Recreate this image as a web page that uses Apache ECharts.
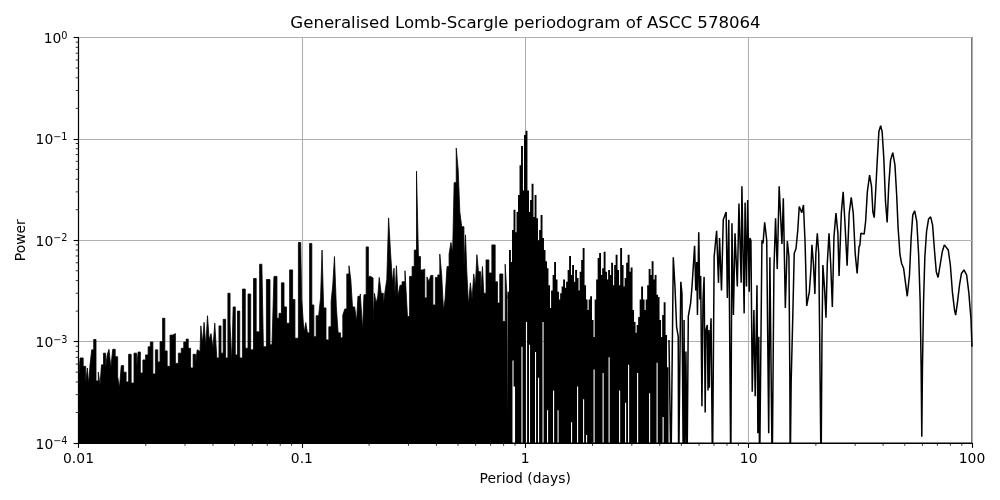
<!DOCTYPE html>
<html>
<head>
<meta charset="utf-8">
<style>html,body{margin:0;padding:0;background:#fff}#chart{width:1000px;height:500px}</style>
<script src="https://cdn.jsdelivr.net/npm/echarts@6/dist/echarts.min.js"></script>
</head>
<body>
<div id="chart"></div>
<script>
// periods below about 0.84 d: the solid black part, outline of the top only
var densePeriod = [
  0.0100,0.01033,0.01066,0.01088,0.01103,0.01118,0.01134,0.01158,0.01182,0.01214,0.01239,0.01257,0.01278,0.0131,0.01332,0.01355,0.01384,0.01408,0.01438,0.01482,
  0.01513,0.01538,0.0157,0.01614,0.01653,0.017,0.01742,0.01803,0.01833,0.01865,0.0192,0.01964,0.0203,0.0207,0.02126,0.0218,0.0224,0.02286,0.0235,0.0241,
  0.0246,0.0253,0.0261,0.0268,0.0275,0.0285,0.0292,0.03,0.0307,0.0313,0.0322,0.033,0.0338,0.0342,0.035,0.0356,0.0362,0.0368,0.0375,0.0381,
  0.0388,0.0396,0.0404,0.0411,0.0421,0.043,0.0439,0.045,0.0461,0.0472,0.0482,0.0488,0.0497,0.051,0.052,0.0534,0.055,0.0566,0.0582,0.0598,
  0.0617,0.0632,0.0662,0.0683,0.0705,0.0735,0.0765,0.0782,0.0798,0.0822,0.0842,0.0865,0.0898,0.092,0.0942,0.0988,
  0.1008,0.1022,0.1032,0.105,0.1068,0.1098,0.1118,0.1145,0.1172,0.1205,0.122,0.1243,0.126,0.1305,0.1336,0.1368,0.1382,0.1417,0.1436,0.147,
  0.1507,0.1543,0.157,0.1608,0.1642,0.167,0.17,0.1746,0.177,0.1795,0.1858,0.1883,0.191,0.197,0.2,0.2066,0.21,0.2125,0.2175,0.22,
  0.224,0.229,0.234,0.238,0.242,0.247,0.252,0.257,0.26,0.263,0.267,0.272,0.278,0.284,0.295,0.299,0.308,0.315,0.322,0.33,
  0.335,0.344,0.351,0.359,0.367,0.374,0.381,0.391,0.401,0.411,0.418,0.427,0.434,0.441,0.452,0.46,0.47,0.476,0.485,0.497,
  0.505,0.514,0.525,0.538,0.542,0.552,0.562,0.574,0.582,0.594,0.602,0.613,0.622,0.639,0.648,0.656,0.679,0.696,0.722,0.745,
  0.757,0.781,0.806,0.82,0.839
];
var densePower = [
  4.2e-4,6.9e-4,5.7e-4,3.9e-4,5.5e-4,3.8e-4,5.9e-4,8.3e-4,1.05e-3,4.1e-4,5e-4,3.7e-4,5.9e-4,7.7e-4,5.3e-4,7.4e-4,8.4e-4,5.5e-4,8.4e-4,7.1e-4,
  4.5e-4,3.5e-4,5.8e-4,5e-4,4e-4,7.5e-4,3.9e-4,7.7e-4,5.3e-4,7.9e-4,4.9e-4,6.6e-4,7.4e-4,8.9e-4,9.9e-4,4.8e-4,8.3e-4,6.3e-4,1e-3,1.7e-3,
  8.1e-4,5.7e-4,1.16e-3,1.2e-3,6.1e-4,7.7e-4,8.6e-4,9.9e-4,1.06e-3,8.6e-4,5.5e-4,7.5e-4,5.9e-4,8.3e-4,8e-4,1.43e-3,9.6e-4,1.55e-3,8.9e-4,1.8e-3,
  1.04e-3,1.2e-3,8.6e-4,1.52e-3,6.9e-4,1.43e-3,7.7e-4,1.66e-3,6.9e-4,3e-3,1.52e-3,6.1e-4,2.2e-3,7.4e-4,2e-3,6.9e-4,3.3e-3,8.6e-4,2.95e-3,8.3e-4,
  4.2e-3,1.25e-3,5.8e-3,8.9e-4,4.1e-3,9.3e-4,4.4e-3,1.7e-3,1.9e-3,3.8e-3,2.2e-3,1.52e-3,5.1e-3,2.6e-3,1.08e-3,9.5e-3,
  2.6e-3,1.53e-3,1.25e-3,1.54e-3,1.22e-3,9.3e-3,2.3e-3,1.12e-3,1.8e-3,1.83e-3,2.7e-3,8e-3,2.15e-3,1.04e-3,1.4e-3,2.5e-3,3.6e-3,6.9e-3,2.2e-3,1.22e-3,
  1.09e-3,1.83e-3,2.1e-3,4.65e-3,5.6e-3,4.1e-3,2.2e-3,2.15e-3,1.58e-3,2.8e-3,2.95e-3,1.3e-3,2.9e-3,8.6e-3,4.4e-3,4.25e-3,1.58e-3,3e-3,2.4e-3,2.8e-3,
  4.3e-3,3e-3,2.3e-3,3.2e-3,4.1e-3,1.66e-2,7.5e-3,3.8e-3,5.3e-3,2.8e-3,5.6e-3,2.8e-3,3.6e-3,3.9e-3,5e-3,1.77e-3,4.4e-3,5.5e-3,8e-3,4.8e-2,
  6.9e-3,5.1e-3,5.2e-3,2.7e-3,4.35e-3,3.9e-3,4.5e-3,2.3e-3,4.3e-3,4.55e-3,7.3e-3,4.55e-3,2.05e-3,2.6e-3,5.5e-3,7.3e-3,9.5e-3,7.5e-3,3.7e-2,8.1e-2,
  4.9e-2,1.9e-2,1.36e-2,5.5e-3,1.13e-2,5.1e-3,2.3e-3,3.8e-3,2.6e-3,4.65e-3,3.5e-3,7.2e-3,4.9e-3,2.9e-3,5.5e-3,3e-3,6.4e-3,4.75e-3,9e-3,3.9e-3,
  2.4e-3,4.65e-3,1.58e-3,5.8e-3,2.7e-3
];

// 0.84 to 4.3 d: black mass with white slivers, one vertical stroke per period
var combPeriod = [
  0.841,0.854,0.868,0.881,0.895,0.909,0.923,0.937,0.952,0.967,0.982,0.997,1.013,1.029,1.045,1.061,1.078,1.095,1.112,1.129,
  1.147,1.165,1.183,1.201,1.220,1.239,1.258,1.278,1.298,1.318,1.339,1.360,1.381,1.403,1.424,1.447,1.469,1.492,1.515,1.539,
  1.563,1.587,1.612,1.637,1.663,1.689,1.715,1.742,1.769,1.797,1.825,1.853,1.882,1.911,1.941,1.971,2.002,2.033,2.065,2.097,
  2.130,2.163,2.197,2.231,2.266,2.301,2.337,2.373,2.410,2.448,2.486,2.525,2.564,2.604,2.645,2.686,2.728,2.770,2.813,2.857,
  2.902,2.947,2.993,3.040,3.087,3.135,3.184,3.234,3.284,3.335,3.387,3.440,3.494,3.548,3.603,3.659,3.716,3.774,3.833,3.893,
  3.953,4.015,4.078,4.141,4.206,4.271,4.338
];
var combTop = [
  3.1e-3,8e-3,6.1e-3,1.26e-2,2e-2,1.2e-2,1.9e-2,2.8e-2,5.5e-2,8.5e-2,3.1e-2,0.109,0.12,3.1e-2,1.9e-2,2.5e-2,3.6e-2,1.7e-2,2.8e-2,1.65e-2,
  1e-2,1.26e-2,1.77e-2,1.05e-2,8e-3,6.2e-3,5.3e-3,3.6e-3,2.15e-3,3.2e-3,4.55e-3,6.1e-3,4.1e-3,3.1e-3,2.6e-3,3e-3,3.5e-3,4.1e-3,3.4e-3,3.9e-3,
  5.1e-3,7e-3,4.55e-3,5.7e-3,3.9e-3,5.1e-3,4.25e-3,3.2e-3,4.9e-3,6.4e-3,8.4e-3,3.6e-3,2.6e-3,2.05e-3,2.6e-3,2.8e-3,1.63e-3,1.11e-3,2.6e-3,4.1e-3,
  6.7e-3,7.5e-3,4.55e-3,5.3e-3,7.7e-3,4.9e-3,4.1e-3,5.1e-3,4.55e-3,6e-3,3.6e-3,5.7e-3,7.2e-3,5.1e-3,3.6e-3,8.4e-3,5.7e-3,3.5e-3,4.25e-3,6e-3,
  7.2e-3,4.9e-3,5.4e-3,2.05e-3,1.56e-3,1.22e-3,1.46e-3,1.75e-3,2.6e-3,3.5e-3,2.6e-3,2.05e-3,2.6e-3,3.6e-3,5.2e-3,4.55e-3,6.2e-3,4.1e-3,4.55e-3,2.9e-3,
  2.75e-3,1.63e-3,1.11e-3,1.83e-3,2.45e-3,1.16e-3,5.6e-4
];
var combBottom = [
  5e-5,5e-5,5e-5,6.5e-4,3.6e-4,5e-5,5e-5,5e-5,5e-5,8.9e-4,5e-5,5e-5,1.56e-3,5e-5,9.3e-4,5e-5,5e-5,5e-5,7.9e-4,5e-5,
  4.4e-4,5e-5,5e-5,1.56e-3,5e-5,5e-5,2.1e-4,5e-5,5e-5,5e-5,3.3e-4,5e-5,5e-5,2.1e-4,5e-5,5e-5,5e-5,5e-5,5e-5,5e-5,
  5e-5,5e-5,1.6e-4,5e-5,5e-5,5e-5,3.6e-4,5e-5,5e-5,5e-5,2.7e-4,5e-5,1.2e-4,5e-5,5e-5,5e-5,5e-5,5.3e-4,5e-5,5e-5,
  5e-5,5e-5,5e-5,4.9e-4,5e-5,5e-5,5e-5,7e-4,5e-5,5e-5,5e-5,5e-5,5e-5,5e-5,3.3e-4,5e-5,5e-5,5e-5,2.5e-4,5e-5,
  5.9e-4,5e-5,5e-5,5e-5,5e-5,5e-5,4.9e-4,5e-5,5e-5,5e-5,5e-5,5e-5,5e-5,5e-5,3.1e-4,5e-5,5e-5,5e-5,5e-5,6.2e-4,
  5e-5,5e-5,5e-5,1.8e-4,5e-5,5e-5,5e-5
];

// above 4.4 d the curve is a single line
var longPeriod = [
  4.4,4.49,4.6,4.68,4.76,4.84,4.86,4.97,5.03,5.1,5.14,5.18,5.24,5.3,5.37,5.5,5.58,5.73,5.8,5.86,
  5.9,5.98,6.05,6.1,6.18,6.25,6.32,6.39,6.44,6.53,6.58,6.63,6.67,6.72,6.79,6.89,7.01,7.19,7.33,7.41,
  7.56,7.7,7.93,8.03,8.15,8.32,8.42,8.55,8.69,8.87,8.9,9.05,9.26,9.33,9.55,9.64,9.78,9.9,10.06,10.13,
  10.24,10.38,10.56,10.7,10.9,11.0,11.1,11.2,11.47,11.6,11.8,12.05,12.3,12.45,12.75,12.98,13.2,13.43,13.7,14.1,
  14.3,14.6,14.9,15.15,15.3,15.35,15.5,15.75,16,16.3,16.6,16.85,17.3,17.6,17.9,18.2,18.7,19,19.2,19.5,
  19.8,20,20.3,20.6,20.8,21.1,21.3,21.5,21.9,22.2,22.5,22.9,23.3,23.7,24.1,24.6,25.1,25.4,26,26.5,
  27,27.6,28.2,28.8,29.4,30,30.6,31.2,31.5,31.8,32.3,32.9,33.4,34,34.8,35.5,36,36.5,36.9,37.7,
  38.3,39,39.6,40.3,41,41.7,42.4,43.2,44.2,45.2,46,46.7,47.6,48.4,49.4,50.3,51.3,52.5,53.4,54.3,
  55.4,56.6,57.7,58.6,59.2,59.6,60,60.7,61.5,62.6,63.9,65.3,66.6,68,69.2,70.5,72,73.6,75.2,76.7,
  78.3,80,81.7,83.5,84.5,86,87.9,89.7,92,94.6,96.7,98.9,100
];
var longPower = [
  1.04e-3,5e-5,6.8e-3,3.5e-3,1.4e-3,1.12e-3,5e-5,3.9e-3,3e-3,5e-5,1.63e-3,5e-5,8e-4,5e-5,1.77e-3,2.4e-3,3.5e-3,8.8e-3,3.2e-3,6.1e-3,
  1.83e-3,1.2e-2,2.6e-3,4.45e-3,2.3e-4,2.6e-3,4.35e-3,2e-4,1.3e-3,1.46e-3,3.3e-4,1.3e-3,3.5e-4,1.04e-3,1.7e-3,5e-5,6.9e-3,1.24e-2,3.8e-3,1.05e-2,
  3.2e-3,1.59e-2,1.9e-2,2.7e-3,1.59e-2,5e-5,1.47e-2,1.83e-3,1.17e-2,1.17e-2,3.5e-3,2.3e-2,3.8e-3,3.4e-2,1.9e-3,2.35e-2,3.5e-3,2.5e-2,3.1e-3,1.05e-2,
  1e-2,3.2e-4,2.05e-3,2.9e-4,3.6e-3,1.25e-4,1.12e-3,5e-5,1e-2,9.3e-3,1.5e-2,1e-2,1.25e-4,6.8e-3,5e-5,5.1e-3,1.65e-2,5.2e-3,3.4e-2,9.2e-3,
  2.6e-2,2.15e-3,9.8e-3,6.9e-3,3.9e-4,5e-5,3.9e-4,1.63e-3,7.4e-3,8.3e-3,1.26e-2,2.15e-2,1.87e-2,2.23e-2,9.3e-3,2.25e-3,3.1e-3,5.1e-3,9e-3,5.9e-3,
  2.95e-3,7.4e-3,1.17e-2,7.4e-3,1.12e-3,5e-5,1.12e-3,5.7e-3,3.2e-3,1.72e-3,5.9e-3,1.17e-2,5.9e-3,2.2e-3,1.08e-2,1.85e-2,1.17e-2,4.45e-3,1.85e-2,3e-2,
  1.47e-2,5.6e-3,1.85e-2,2.65e-2,1.85e-2,7.4e-3,4.7e-3,8.6e-3,9e-3,1.17e-2,1.22e-2,1.15e-2,1.53e-2,3e-2,4.4e-2,3.4e-2,1.9e-2,1.67e-2,2.6e-2,6.4e-2,
  0.118,0.135,0.118,6.4e-2,2.4e-2,1.5e-2,3.5e-2,6.2e-2,7.3e-2,5.5e-2,2.8e-2,1.31e-2,7.2e-3,5.9e-3,5.3e-3,3.9e-3,2.8e-3,4.55e-3,1.05e-2,1.78e-2,
  1.95e-2,1.53e-2,7.2e-3,2.5e-3,5.5e-4,1.15e-4,5.5e-4,2.5e-3,6.8e-3,1.22e-2,1.62e-2,1.7e-2,1.42e-2,7.7e-3,4.9e-3,4.3e-3,5.7e-3,7.7e-3,9e-3,9.1e-3,
  8e-3,5.7e-3,3.1e-3,2.05e-3,1.83e-3,2.4e-3,3.6e-3,4.7e-3,5.1e-3,4.55e-3,3.1e-3,1.7e-3,8.9e-4
];

var xTickLabels = { '0.01': '0.01', '0.1': '0.1', '1': '1', '10': '10', '100': '100' };
var yTickLabels = { '1': '0', '0.1': '−1', '0.01': '−2', '0.001': '−3', '0.0001': '−4' };
var xMinorTicks = [0.02,0.03,0.04,0.05,0.06,0.07,0.08,0.09,0.2,0.3,0.4,0.5,0.6,0.7,0.8,0.9,2,3,4,5,6,7,8,9,20,30,40,50,60,70,80,90];
var yMinorTicks = [2e-4,3e-4,4e-4,5e-4,6e-4,7e-4,8e-4,9e-4,2e-3,3e-3,4e-3,5e-3,6e-3,7e-3,8e-3,9e-3,0.02,0.03,0.04,0.05,0.06,0.07,0.08,0.09,0.2,0.3,0.4,0.5,0.6,0.7,0.8,0.9];

var font = 'DejaVu Sans';

function pairs(xs, ys) {
  return xs.map(function (x, i) { return [x, ys[i]]; });
}

var combData = [];
combPeriod.forEach(function (p, i) {
  combData.push([p, combTop[i]], [p, combBottom[i]], [p, null]);
});

function minorTick(axis) {
  return function (params, api) {
    var p = api.coord([api.value(0), api.value(1)]);
    var end = axis === 'x' ? [p[0], p[1] + 2.8] : [p[0] - 2.8, p[1]];
    return {
      type: 'line',
      shape: { x1: p[0], y1: p[1], x2: end[0], y2: end[1] },
      style: { stroke: '#000', lineWidth: 0.8 }
    };
  };
}

var chart = echarts.init(document.getElementById('chart'), null, { renderer: 'canvas' });
chart.setOption({
  animation: false,
  backgroundColor: '#fff',
  title: {
    text: 'Generalised Lomb-Scargle periodogram of ASCC 578064',
    left: 520.5,
    top: 10,
    textAlign: 'center',
    textStyle: { fontFamily: font, fontSize: 16.6, fontWeight: 'normal', color: '#000' }
  },
  grid: { left: 78.5, right: 28, top: 37.5, bottom: 57, show: true, borderColor: '#000', borderWidth: 1.1, backgroundColor: '#fff' },
  xAxis: {
    type: 'log',
    logBase: 10,
    min: 0.01,
    max: 100,
    name: 'Period (days)',
    nameLocation: 'middle',
    nameGap: 29,
    nameTextStyle: { fontFamily: font, fontSize: 13.9, color: '#000' },
    axisLine: { show: true, onZero: false, lineStyle: { color: '#000', width: 1.1 } },
    axisTick: { show: true, length: 4.9, lineStyle: { color: '#000', width: 1.1 } },
    minorTick: { show: false },
    splitLine: { show: true, lineStyle: { color: '#b0b0b0', width: 1.1 } },
    axisLabel: {
      fontFamily: font, fontSize: 13.9, color: '#000', margin: 9, showMinLabel: true, showMaxLabel: true,
      formatter: function (v) { return xTickLabels[String(+v.toPrecision(3))] || ''; }
    }
  },
  yAxis: {
    type: 'log',
    logBase: 10,
    min: 0.0001,
    max: 1,
    name: 'Power',
    nameLocation: 'middle',
    nameGap: 50,
    nameRotate: 90,
    nameMoveOverlap: false,
    nameTextStyle: { fontFamily: font, fontSize: 13.9, color: '#000' },
    axisLine: { show: true, onZero: false, lineStyle: { color: '#000', width: 1.1 } },
    axisTick: { show: true, length: 4.9, lineStyle: { color: '#000', width: 1.1 } },
    minorTick: { show: false },
    splitLine: { show: true, lineStyle: { color: '#b0b0b0', width: 1.1 } },
    axisLabel: {
      fontFamily: font, fontSize: 13.9, color: '#000', margin: 11, padding: [4, 0, 0, 0], showMinLabel: true, showMaxLabel: true,
      formatter: function (v) { return '{b|10}{s|' + (yTickLabels[String(+v.toPrecision(3))] || '') + '}'; },
      rich: {
        b: { fontFamily: font, fontSize: 13.9, color: '#000' },
        s: { fontFamily: font, fontSize: 9.7, color: '#000', padding: [0, 0, 7, 0] }
      }
    }
  },
  series: [
    {
      type: 'line', name: 'dense', data: pairs(densePeriod, densePower), showSymbol: false, silent: true,
      step: 'middle',
      lineStyle: { color: '#000', width: 0.8 }, areaStyle: { color: '#000', opacity: 1, origin: 'start' }, clip: true
    },
    {
      type: 'line', name: 'comb', data: combData, showSymbol: false, silent: true, connectNulls: false,
      lineStyle: { color: '#000', width: 1.9 }, clip: true
    },
    {
      type: 'line', name: 'long', data: pairs(longPeriod, longPower), showSymbol: false, silent: true,
      lineStyle: { color: '#000', width: 1.5 }, clip: true
    },
    {
      type: 'custom', name: 'xMinor', silent: true, clip: false,
      data: xMinorTicks.map(function (v) { return [v, 0.0001]; }),
      renderItem: minorTick('x')
    },
    {
      type: 'custom', name: 'yMinor', silent: true, clip: false,
      data: yMinorTicks.map(function (v) { return [0.01, v]; }),
      renderItem: minorTick('y')
    }
  ]
});
</script>
</body>
</html>
